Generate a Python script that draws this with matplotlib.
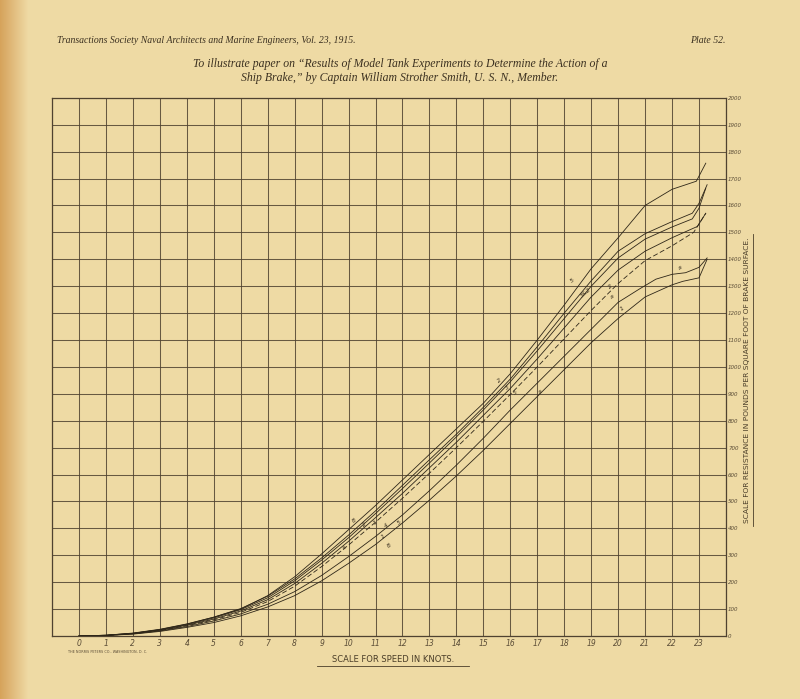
import numpy as np
import matplotlib.pyplot as plt
from matplotlib.lines import Line2D

# speed (knots) and resistance (lbs per sq ft), one pair of lists per curve
c1_x = [0, 1, 2, 3, 4, 5, 6, 7, 8, 9, 10, 11, 12, 13, 14, 15, 16, 17, 18, 19, 20, 21, 22, 22.9, 23.25]
c1_y = [0, 3, 11, 25, 45, 70, 100, 150, 220, 305, 395, 485, 580, 675, 770, 865, 975, 1100, 1230, 1365, 1480, 1600, 1660, 1690, 1757]

c2_x = [0, 1, 2, 3, 4, 5, 6, 7, 8, 9, 10, 11, 12, 13, 14, 15, 16, 17, 18, 19, 20, 21, 22, 22.75, 23.0, 23.3]
c2_y = [0, 3, 10, 24, 44, 70, 102, 148, 212, 290, 375, 465, 560, 655, 750, 850, 955, 1075, 1200, 1320, 1430, 1495, 1540, 1571, 1608, 1677]

c3_x = [0, 1, 2, 3, 4, 5, 6, 7, 8, 9, 10, 11, 12, 13, 14, 15, 16, 17, 18, 19, 20, 21, 22, 22.75, 23.0, 23.25]
c3_y = [0, 3, 10, 23, 42, 67, 98, 142, 205, 282, 365, 455, 548, 643, 740, 840, 945, 1060, 1180, 1300, 1405, 1475, 1520, 1550, 1590, 1664]

c4_x = [0, 1, 2, 3, 4, 5, 6, 7, 8, 9, 10, 11, 12, 13, 14, 15, 16, 17, 18, 19, 20, 21, 22, 22.94, 23.25]
c4_y = [0, 2, 9, 21, 40, 63, 93, 135, 195, 270, 352, 440, 530, 625, 720, 820, 920, 1030, 1145, 1260, 1360, 1430, 1480, 1522, 1571]

c5_x = [0, 1, 2, 3, 4, 5, 6, 7, 8, 9, 10, 11, 12, 13, 14, 15, 16, 17, 18, 19, 20, 21, 22, 22.8, 23.25]
c5_y = [0, 2, 9, 20, 38, 60, 88, 128, 185, 258, 338, 423, 512, 605, 700, 798, 898, 1000, 1105, 1210, 1310, 1395, 1450, 1500, 1571]

c6_x = [0, 1, 2, 3, 4, 5, 6, 7, 8, 9, 10, 11, 12, 13, 14, 15, 16, 17, 18, 19, 20, 20.78, 21.4, 22, 22.5, 23, 23.3]
c6_y = [0, 2, 8, 19, 35, 56, 82, 118, 165, 225, 295, 370, 450, 540, 635, 735, 840, 940, 1040, 1140, 1240, 1289, 1326, 1344, 1350, 1370, 1405]

c7_x = [0, 1, 2, 3, 4, 5, 6, 7, 8, 9, 10, 11, 12, 13, 14, 15, 16, 17, 18, 19, 20, 21, 22, 22.4, 23.0, 23.3]
c7_y = [0, 2, 7, 17, 32, 50, 75, 108, 150, 205, 270, 340, 420, 505, 595, 690, 790, 890, 990, 1090, 1180, 1260, 1305, 1318, 1331, 1400]

curves = [(c1_x, c1_y, '-'), (c2_x, c2_y, '-'), (c3_x, c3_y, '-'), (c4_x, c4_y, '-'),
          (c5_x, c5_y, (0, (6, 3))), (c6_x, c6_y, '-'), (c7_x, c7_y, '-')]

# little hand-written marks along the curves
mark_x = [18.3, 18.8, 19.7, 19.8, 20.15, 22.3, 15.6, 15.9, 16.2, 17.1, 10.2, 10.6, 11.0, 11.4, 11.9, 9.85, 11.3, 11.5]
mark_y = [1320, 1275, 1300, 1260, 1215, 1370, 950, 925, 905, 910, 430, 415, 420, 410, 420, 330, 370, 335]
mark_t = ['5', '3&2', '2', 'a', '1', 'a', '2', '3', '5', 'a', '8', '2', '1', '4', '5', 'a', '1', '8']

x_ticks = list(range(0, 24))
y_ticks = list(range(0, 2001, 100))

paper = '#efdaa5'
ink = '#4f4230'

fig = plt.figure(figsize=(8, 6.99), dpi=100)
fig.patch.set_facecolor(paper)

# darker fold on the left edge of the page
bg = fig.add_axes([0, 0, 1, 1], zorder=-5)
edge = np.array([0.84, 0.64, 0.36])
base = np.array([0.937, 0.855, 0.647])
w = np.clip(np.arange(800) / 28.0, 0, 1)[None, :, None]
img = edge * (1 - w) + base * w
bg.imshow(np.repeat(img, 2, axis=0), aspect='auto', extent=[0, 1, 0, 1])
bg.axis('off')

ax = fig.add_axes([0.065, 0.0901, 0.8425, 0.770])
ax.set_facecolor('none')
ax.set_xlim(-1, 24)
ax.set_ylim(0, 2000)

for xv in range(-1, 25):
    ax.axvline(xv, color=ink, lw=0.75, alpha=0.85, zorder=1)
for yv in y_ticks:
    ax.axhline(yv, color=ink, lw=0.75, alpha=0.85, zorder=1)

for xs, ys, ls in curves:
    ax.plot(xs, ys, color='#2e2618', lw=0.6, ls=ls, zorder=3)

for mx, my, mt in zip(mark_x, mark_y, mark_t):
    ax.text(mx, my, mt, fontsize=4.5, style='italic', color='#3a3020',
            rotation=40, ha='center', va='center', zorder=4)

for s in ax.spines.values():
    s.set_color(ink)
    s.set_linewidth(0.9)

ax.set_xticks(x_ticks)
ax.set_xticklabels([str(v) for v in x_ticks], fontsize=5.5, style='italic', color='#5a4c36')
ax.yaxis.tick_right()
ax.set_yticks(y_ticks)
ax.set_yticklabels([str(v) for v in y_ticks], fontsize=4, style='italic', color='#5a4c36')
ax.tick_params(axis='x', length=0, pad=2)
ax.tick_params(axis='y', length=0, pad=1.5)

# header texts
fig.text(0.071, 0.938, 'Transactions Society Naval Architects and Marine Engineers, Vol. 23, 1915.',
         fontsize=7, style='italic', family='Liberation Serif', color='#3b3020')
fig.text(0.862, 0.938, 'Plate 52.', fontsize=7, style='italic', family='Liberation Serif', color='#3b3020')
fig.text(0.5, 0.904, 'To illustrate paper on \u201cResults of Model Tank Experiments to Determine the Action of a',
         fontsize=8.5, style='italic', family='Liberation Serif', color='#3b3020', ha='center')
fig.text(0.5, 0.884, 'Ship Brake,\u201d by Captain William Strother Smith, U. S. N., Member.',
         fontsize=8.5, style='italic', family='Liberation Serif', color='#3b3020', ha='center')

# axis titles, underlined by hand
fig.text(0.491, 0.056, 'SCALE FOR SPEED IN KNOTS.', fontsize=6, color='#4a3d28', ha='center', va='center')
fig.add_artist(Line2D([0.396, 0.586], [0.047, 0.047], color='#4a3d28', lw=0.6))
fig.text(0.934, 0.456, 'SCALE FOR RESISTANCE IN POUNDS PER SQUARE FOOT OF BRAKE SURFACE.',
         fontsize=5.4, color='#4a3d28', rotation=90, ha='center', va='center')
fig.add_artist(Line2D([0.9415, 0.9415], [0.247, 0.665], color='#4a3d28', lw=0.6))

fig.text(0.085, 0.066, 'THE NORRIS PETERS CO., WASHINGTON, D. C.', fontsize=2.4, color='#5a4c36')

fig.savefig('out.png', dpi=100, facecolor=paper)
